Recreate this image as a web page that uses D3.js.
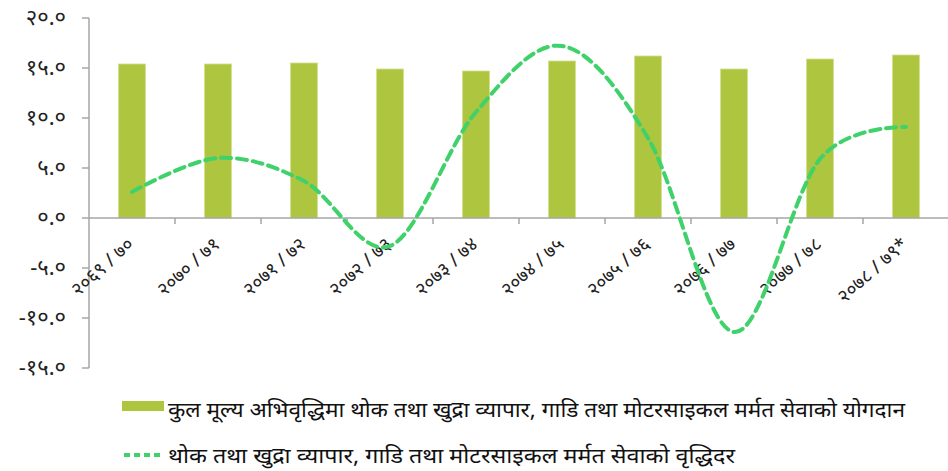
<!DOCTYPE html>
<html>
<head>
<meta charset="UTF-8">
<script src="https://d3js.org/d3.v7.min.js"></script>
<style>
  body { margin: 0; background: #fff; }
  svg { display: block; font-family: "Noto Sans", "Noto Sans Devanagari", sans-serif; }
</style>
</head>
<body>
<svg width="948" height="471"></svg>
<script>
const years = ["२०६९/७०", "२०७०/७१", "२०७१/७२", "२०७२/७३", "२०७३/७४", "२०७४/७५", "२०७५/७६", "२०७६/७७", "२०७७/७८", "२०७८/७९*"];
const contribution = [15.4, 15.4, 15.5, 14.9, 14.7, 15.7, 16.2, 14.9, 15.9, 16.3];
const growth = [2.6, 6.0, 3.7, -2.8, 10.6, 17.2, 8.0, -11.4, 5.9, 9.1];
const yTicks = [-15, -10, -5, 0, 5, 10, 15, 20];
const devDigits = "०१२३४५६७८९";
const barLabel = "कुल मूल्य अभिवृद्धिमा थोक तथा खुद्रा व्यापार, गाडि तथा मोटरसाइकल मर्मत सेवाको योगदान";
const lineLabel = "थोक तथा खुद्रा व्यापार, गाडि तथा मोटरसाइकल मर्मत सेवाको वृद्धिदर";

const toDev = s => s.replace(/[0-9]/g, d => devDigits[+d]);
const fmtYear = s => toDev(s).replace("/", " / ");

const svg = d3.select("svg");
const left = 89, right = 949;
const x = d3.scaleBand().domain(years).range([left, right]);
const y = d3.scaleLinear().domain([-15, 20]).range([368, 18]);
const axisColor = "#a6a6a6";

// y axis
svg.append("line").attr("x1", left).attr("x2", left).attr("y1", y(20)).attr("y2", y(-15))
  .attr("stroke", axisColor).attr("stroke-width", 1.5);
svg.selectAll(".ytick").data(yTicks).enter().append("line")
  .attr("x1", left - 7).attr("x2", left).attr("y1", d => y(d)).attr("y2", d => y(d))
  .attr("stroke", axisColor).attr("stroke-width", 1.5);
svg.selectAll(".ylab").data(yTicks).enter().append("text")
  .attr("x", 66).attr("y", d => y(d) + 7)
  .attr("text-anchor", "end").attr("font-size", 22).attr("fill", "#222")
  .text(d => toDev(d.toFixed(1)));

// bars
svg.selectAll(".bar").data(years).enter().append("rect")
  .attr("x", d => x(d) + x.bandwidth() / 2 - 13.5)
  .attr("width", 27)
  .attr("y", (d, i) => y(contribution[i]))
  .attr("height", (d, i) => y(0) - y(contribution[i]))
  .attr("fill", "#adc53f").attr("stroke", "#d3e08f").attr("stroke-width", 0.8);

// x axis
svg.append("line").attr("x1", left).attr("x2", right).attr("y1", y(0)).attr("y2", y(0))
  .attr("stroke", axisColor).attr("stroke-width", 1.5);
svg.selectAll(".xtick").data(years.slice(1)).enter().append("line")
  .attr("x1", d => x(d)).attr("x2", d => x(d)).attr("y1", y(0)).attr("y2", y(0) + 6)
  .attr("stroke", axisColor).attr("stroke-width", 1.5);
svg.selectAll(".xlab").data(years).enter().append("text")
  .attr("transform", d => `translate(${x(d) + x.bandwidth() / 2 + 3},${y(0) + 28}) rotate(-42)`)
  .attr("text-anchor", "end").attr("font-size", 19).attr("fill", "#222")
  .text(fmtYear);

// growth line
const line = d3.line()
  .x((d, i) => x(years[i]) + x.bandwidth() / 2)
  .y(d => y(d))
  .curve(d3.curveCatmullRom.alpha(0));
svg.append("path").datum(growth).attr("d", line)
  .attr("fill", "none").attr("stroke", "#3fd16a").attr("stroke-width", 4)
  .attr("stroke-dasharray", "10,6").attr("stroke-linecap", "round");

// legend
svg.append("rect").attr("x", 122).attr("y", 401).attr("width", 42).attr("height", 10).attr("fill", "#adc53f");
svg.append("text").attr("x", 168).attr("y", 417).attr("font-size", 21).attr("fill", "#111")
  .attr("textLength", 737).attr("lengthAdjust", "spacingAndGlyphs").text(barLabel);
svg.append("line").attr("x1", 124).attr("x2", 164).attr("y1", 455).attr("y2", 455)
  .attr("stroke", "#3fd16a").attr("stroke-width", 4).attr("stroke-dasharray", "6,4");
svg.append("text").attr("x", 168).attr("y", 463).attr("font-size", 21).attr("fill", "#111")
  .attr("textLength", 567).attr("lengthAdjust", "spacingAndGlyphs").text(lineLabel);
</script>
</body>
</html>
